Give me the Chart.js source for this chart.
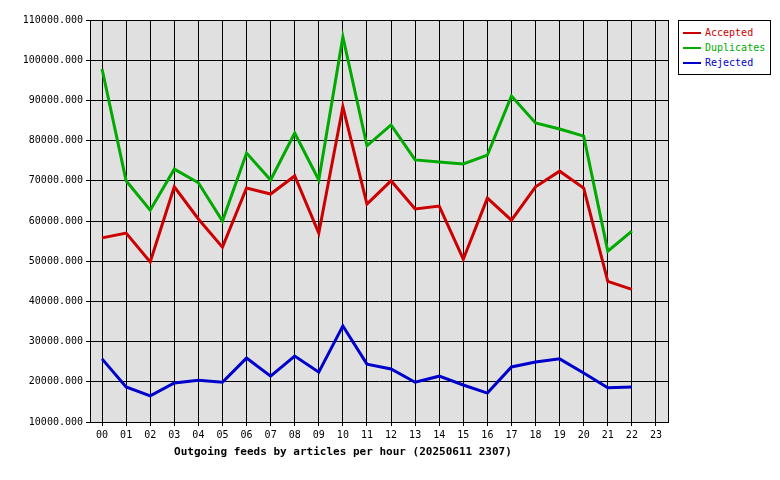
<!DOCTYPE html>
<html><head><meta charset="utf-8">
<script src="https://cdn.jsdelivr.net/npm/chart.js@4"></script>
<style>
body{margin:0;background:#fff;}
#wrap{position:relative;width:780px;height:480px;}
#legend{position:absolute;left:678px;top:20px;width:93px;height:55px;border:1px solid #000;background:#fff;font:10px "DejaVu Sans Mono",monospace;box-sizing:border-box;padding-top:4px;}
#legend div{height:15px;line-height:15px;position:relative;padding-left:26px;}
#legend span{position:absolute;left:4px;top:7px;width:18px;height:2px;}
#title{position:absolute;left:0;width:686px;top:445px;text-align:center;font:bold 11px "DejaVu Sans Mono",monospace;color:#000;}
</style></head><body>
<div id="wrap"><canvas id="c" width="780" height="480"></canvas>
<div id="legend"></div><div id="title">Outgoing feeds by articles per hour (20250611 2307)</div></div>
<script>
const hours=["00","01","02","03","04","05","06","07","08","09","10","11","12","13","14","15","16","17","18","19","20","21","22","23"];
const accepted=[55800,57000,49800,68500,60500,53500,68200,66700,71200,57000,88400,64200,70000,63000,63700,50500,65700,60200,68500,72400,68200,45000,43000,null];
const duplicates=[97800,70000,62700,72900,69500,60000,76900,70200,81900,70200,105800,78700,83900,75200,74700,74200,76400,91100,84400,82900,81100,52500,57500,null];
const rejected=[25700,18700,16500,19700,20400,19900,25900,21400,26400,22400,33900,24400,23200,19900,21400,19200,17200,23700,24900,25700,22200,18500,18700,null];
const series=[["Accepted",accepted,"#cc0000"],["Duplicates",duplicates,"#00aa00"],["Rejected",rejected,"#0000cc"]];
const leg=document.getElementById('legend');
series.forEach(s=>{const d=document.createElement('div');d.style.color=s[2];d.innerHTML='<span style="background:'+s[2]+'"></span>'+s[0];leg.appendChild(d);});
const bg={id:'bg',beforeDraw(ch){const a=ch.chartArea,c=ch.ctx;c.save();c.fillStyle='#e0e0e0';c.fillRect(a.left,a.top,a.right-a.left,a.bottom-a.top);c.restore();},
afterDraw(ch){const a=ch.chartArea,c=ch.ctx;c.save();c.strokeStyle='#000';c.lineWidth=1;c.strokeRect(a.left+0.5,a.top+0.5,a.right-a.left,a.bottom-a.top);c.restore();}};
const font={family:'"DejaVu Sans Mono", monospace',size:10};
new Chart(document.getElementById('c'),{type:'line',
data:{labels:hours,datasets:series.map(s=>({label:s[0],data:s[1],borderColor:s[2],borderWidth:3,pointRadius:0,tension:0,fill:false}))},
options:{responsive:false,animation:false,events:[],
layout:{padding:{left:0,right:112,top:20,bottom:0}},
plugins:{legend:{display:false},tooltip:{enabled:false}},
scales:{
x:{offset:true,grid:{color:'#000',offset:false,drawTicks:true,tickLength:4},border:{color:'#000'},
ticks:{color:'#000',font,maxRotation:0,autoSkip:false},
afterFit(s){s.height=58;}},
y:{min:10000,max:110000,grid:{color:'#000',tickLength:4},border:{color:'#000'},
ticks:{stepSize:10000,color:'#000',font,callback:v=>v.toFixed(3)},
afterFit(s){s.width=90;}}}},
plugins:[bg]});
</script></body></html>
